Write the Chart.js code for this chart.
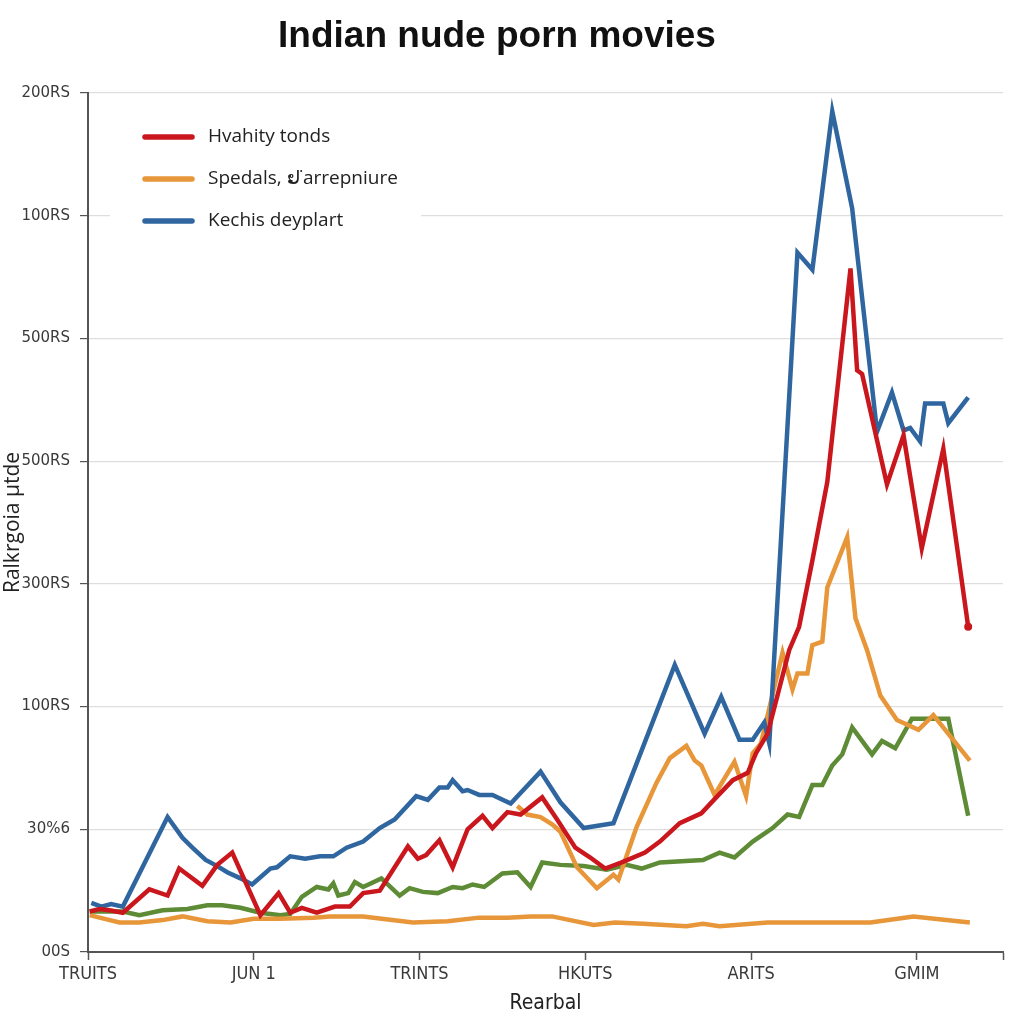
<!DOCTYPE html>
<html>
<head>
<meta charset="utf-8">
<script src="https://cdn.jsdelivr.net/npm/chart.js@4.4.1/dist/chart.umd.min.js"></script>
<style>
  html, body { margin: 0; padding: 0; background: #ffffff; }
  #grafico { display: block; }
</style>
</head>
<body>
<canvas id="grafico" width="1024" height="1024"></canvas>
<script>
// tick labels
var yTickLabels = ["00S", "30%6", "100RS", "300RS", "500RS", "500RS", "100RS", "200RS"];
var xTickLabels = ["TRUITS", "JUN 1", "TRINTS", "HKUTS", "ARITS", "GMIM"];

// legend
var legendNames = ["Hvahity tonds", "Spedals, \u0ea2\u02d9arrepniure", "Kechis deyplart"];
var legendColors = ["#c9171d", "#e8963a", "#2f66a0"];

// series values (x = period, y = grid steps)
var redX = [0.01,0.07,0.13,0.21,0.37,0.48,0.55,0.69,0.78,0.87,1.04,1.15,1.22,1.29,1.38,1.49,1.58,1.66,1.76,1.93,1.99,2.04,2.12,2.20,2.29,2.38,2.44,2.53,2.61,2.74,2.83,2.94,3.03,3.12,3.22,3.36,3.45,3.57,3.70,3.79,3.89,3.98,4.03,4.10,4.23,4.29,4.37,4.46,4.60,4.64,4.67,4.82,4.92,5.03,5.16,5.31];
var redY = [0.33,0.35,0.34,0.32,0.51,0.46,0.68,0.54,0.71,0.81,0.30,0.48,0.32,0.36,0.32,0.37,0.37,0.48,0.50,0.86,0.76,0.79,0.91,0.69,1.00,1.11,1.01,1.14,1.12,1.26,1.08,0.85,0.77,0.68,0.73,0.81,0.90,1.05,1.13,1.26,1.40,1.46,1.62,1.78,2.46,2.65,3.19,3.83,5.57,4.74,4.71,3.81,4.21,3.29,4.10,2.65];

var blueX = [0.02,0.08,0.14,0.21,0.48,0.57,0.63,0.71,0.78,0.84,0.92,0.99,1.10,1.14,1.22,1.31,1.40,1.48,1.56,1.66,1.76,1.85,1.98,2.05,2.12,2.17,2.20,2.26,2.29,2.36,2.44,2.55,2.73,2.85,2.99,3.17,3.54,3.72,3.82,3.93,4.01,4.08,4.11,4.28,4.37,4.49,4.61,4.76,4.85,4.92,4.96,5.02,5.05,5.16,5.19,5.31];
var blueY = [0.40,0.37,0.39,0.37,1.10,0.93,0.85,0.75,0.70,0.65,0.60,0.55,0.68,0.69,0.78,0.76,0.78,0.78,0.85,0.90,1.01,1.08,1.27,1.24,1.34,1.34,1.40,1.31,1.32,1.28,1.28,1.21,1.47,1.22,1.01,1.05,2.34,1.78,2.08,1.73,1.73,1.87,1.70,5.70,5.56,6.85,6.06,4.24,4.56,4.25,4.27,4.16,4.47,4.47,4.31,4.52];

var orangeX = [2.59,2.65,2.73,2.80,2.85,2.95,3.07,3.17,3.20,3.31,3.43,3.51,3.61,3.66,3.70,3.78,3.90,3.97,4.01,4.06,4.19,4.25,4.28,4.34,4.37,4.43,4.46,4.58,4.63,4.70,4.78,4.88,5.01,5.10,5.32];
var orangeY = [1.19,1.12,1.10,1.04,0.98,0.69,0.52,0.63,0.59,1.02,1.38,1.58,1.68,1.56,1.52,1.28,1.55,1.27,1.62,1.70,2.44,2.14,2.27,2.27,2.50,2.53,2.97,3.38,2.72,2.46,2.09,1.89,1.81,1.93,1.56];

var orange2X = [0.01,0.07,0.19,0.31,0.45,0.57,0.72,0.86,1.00,1.16,1.36,1.46,1.66,1.96,2.17,2.36,2.53,2.67,2.80,3.05,3.18,3.35,3.61,3.71,3.81,4.10,4.40,4.72,4.98,5.32];
var orange2Y = [0.30,0.28,0.24,0.24,0.26,0.29,0.25,0.24,0.27,0.27,0.28,0.29,0.29,0.24,0.25,0.28,0.28,0.29,0.29,0.22,0.24,0.23,0.21,0.23,0.21,0.24,0.24,0.24,0.29,0.24];

var greenX = [0.01,0.21,0.31,0.45,0.60,0.72,0.81,0.92,1.04,1.16,1.22,1.29,1.38,1.45,1.48,1.51,1.57,1.61,1.66,1.77,1.88,1.94,2.02,2.11,2.20,2.26,2.32,2.39,2.50,2.59,2.67,2.74,2.85,2.99,3.13,3.25,3.34,3.45,3.71,3.81,3.90,4.01,4.13,4.22,4.29,4.37,4.43,4.49,4.55,4.61,4.73,4.79,4.87,4.97,5.19,5.31];
var greenY = [0.33,0.33,0.30,0.34,0.35,0.38,0.38,0.36,0.32,0.30,0.31,0.45,0.53,0.51,0.56,0.46,0.48,0.57,0.53,0.60,0.46,0.52,0.49,0.48,0.53,0.52,0.55,0.53,0.64,0.65,0.53,0.73,0.71,0.70,0.67,0.71,0.68,0.73,0.75,0.81,0.77,0.90,1.01,1.12,1.10,1.36,1.36,1.52,1.61,1.83,1.61,1.72,1.66,1.90,1.90,1.11];

function pontos(xs, ys) {
    var lista = [];
    for (var i = 0; i < xs.length; i++) {
        lista.push({ x: xs[i], y: ys[i] });
    }
    return lista;
}

function serie(xs, ys, cor, ultimoPonto) {
    return {
        data: pontos(xs, ys),
        borderColor: cor,
        backgroundColor: cor,
        borderWidth: 4.5,
        tension: 0,
        borderJoinStyle: 'miter',
        pointRadius: function (ctx) {
            return (ultimoPonto && ctx.dataIndex === xs.length - 1) ? 4 : 0;
        },
        pointBorderWidth: 0
    };
}

// titulo e legenda desenhados por cima
var extras = {
    id: 'extras',
    afterDraw: function (chart) {
        var c = chart.ctx;
        c.save();
        c.fillStyle = '#111111';
        c.font = 'bold 37px "Liberation Sans", Arial, sans-serif';
        c.textAlign = 'center';
        c.textBaseline = 'middle';
        c.fillText("Indian nude porn movies", 497, 37);

        c.fillStyle = '#ffffff';
        c.fillRect(110, 101, 311, 143);
        c.font = '19px "Open Sans", "Noto Sans", sans-serif';
        c.textAlign = 'left';
        c.lineCap = 'round';
        for (var i = 0; i < legendNames.length; i++) {
            var y = 137 + i * 42;
            c.strokeStyle = legendColors[i];
            c.lineWidth = 5.5;
            c.beginPath();
            c.moveTo(145, y);
            c.lineTo(192, y);
            c.stroke();
            c.fillStyle = '#222222';
            c.fillText(legendNames[i], 208, y);
        }
        c.restore();
    }
};

var contexto = document.getElementById('grafico').getContext('2d');
var grafico = new Chart(contexto, {
    type: 'line',
    data: {
        datasets: [
            serie(redX, redY, '#c9171d', true),
            serie(blueX, blueY, '#2f66a0', false),
            serie(orangeX, orangeY, '#e8963a', false),
            serie(orange2X, orange2Y, '#e8963a', false),
            serie(greenX, greenY, '#5e8b35', false)
        ]
    },
    options: {
        responsive: false,
        animation: false,
        layout: { padding: { top: 93, right: 21, left: 0, bottom: 0 } },
        plugins: {
            legend: { display: false },
            title: { display: false },
            tooltip: { enabled: false }
        },
        scales: {
            x: {
                type: 'linear',
                min: 0,
                max: 5.52,
                afterBuildTicks: function (scale) {
                    scale.ticks = [0, 1, 2, 3, 4, 5, 5.52].map(function (v) { return { value: v }; });
                },
                afterFit: function (scale) { scale.height = 72; },
                ticks: {
                    autoSkip: false,
                    maxRotation: 0,
                    padding: 4,
                    color: '#3a3a3a',
                    font: { family: '"DejaVu Sans Condensed", "DejaVu Sans", sans-serif', size: 18 },
                    callback: function (v, i) { return xTickLabels[i] || ''; }
                },
                grid: { drawOnChartArea: false, tickColor: '#555555', tickLength: 8, tickWidth: 1.5 },
                border: { display: true, color: '#555555', width: 2 },
                title: {
                    display: true,
                    text: 'Rearbal',
                    color: '#222222',
                    padding: { top: 4, bottom: 8 },
                    font: { family: '"DejaVu Sans Condensed", "DejaVu Sans", sans-serif', size: 21 }
                }
            },
            y: {
                min: 0,
                max: 7,
                afterFit: function (scale) { scale.width = 88; },
                ticks: {
                    stepSize: 1,
                    padding: 10,
                    color: '#3a3a3a',
                    font: { family: '"DejaVu Sans", sans-serif', size: 15 },
                    callback: function (v) { return yTickLabels[v]; }
                },
                grid: { color: '#dedede', lineWidth: 1.2, tickColor: '#555555', tickLength: 8 },
                border: { display: true, color: '#555555', width: 2 },
                title: {
                    display: true,
                    text: 'Ralkrgoia \u00b5tde',
                    color: '#222222',
                    padding: 0,
                    font: { family: '"Open Sans", "Noto Sans", sans-serif', size: 21 }
                }
            }
        }
    },
    plugins: [extras]
});
</script>
</body>
</html>
